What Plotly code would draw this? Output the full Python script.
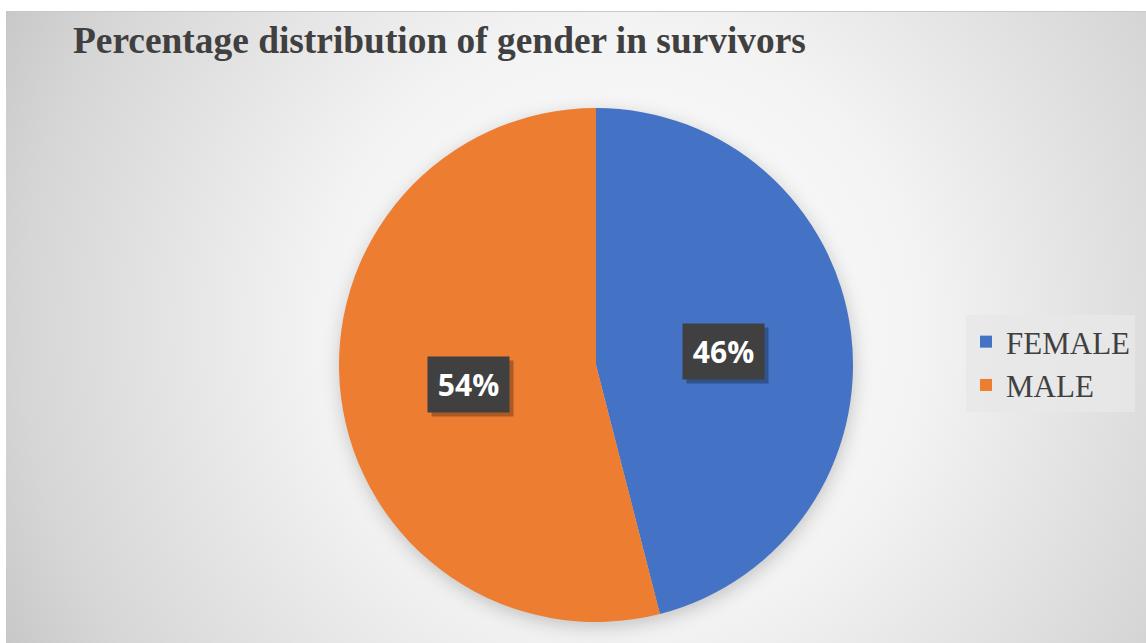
import base64
import math
import plotly.graph_objects as go

# ---- data ----
labels = ["FEMALE", "MALE"]
values = [46, 54]
colors = ["#4472C4", "#ED7D31"]
title_text = "Percentage distribution of gender in survivors"

# ---- layout constants (pixels) ----
W, H = 1146, 643
PIE_CX, PIE_CY, PIE_R = 596, 365, 257
BG_X0, BG_Y0 = 6, 11


def px2paper(x, y):
    return x / W, 1 - y / H


# background: radial gradient + soft shadow under the pie
bw, bh = W - BG_X0, H - BG_Y0
scx, scy = PIE_CX - BG_X0 + 1, PIE_CY - BG_Y0 + 5
gcx, gcy = bw * 0.54, bh * 0.5
svg = f'''<svg xmlns="http://www.w3.org/2000/svg" width="{bw}" height="{bh}" viewBox="0 0 {bw} {bh}">
<defs>
<radialGradient id="g" gradientUnits="userSpaceOnUse" cx="{gcx}" cy="{gcy}" r="720">
<stop offset="0" stop-color="#ffffff"/>
<stop offset="0.42" stop-color="#f3f3f3"/>
<stop offset="0.83" stop-color="#d6d6d6"/>
<stop offset="1" stop-color="#c4c4c4"/>
</radialGradient>
<filter id="b" x="-20%" y="-20%" width="140%" height="140%"><feGaussianBlur stdDeviation="9"/></filter>
</defs>
<rect x="0" y="0" width="{bw}" height="{bh}" fill="url(#g)"/>
<line x1="0" y1="0.5" x2="{bw}" y2="0.5" stroke="#c8c8c8" stroke-width="1"/>
<circle cx="{scx}" cy="{scy}" r="{PIE_R}" fill="rgba(0,0,0,0.2)" filter="url(#b)"/>
</svg>'''
svg_uri = "data:image/svg+xml;base64," + base64.b64encode(svg.encode()).decode()

x0p, y1p = px2paper(PIE_CX - PIE_R, PIE_CY - PIE_R)
x1p, y0p = px2paper(PIE_CX + PIE_R, PIE_CY + PIE_R)

fig = go.Figure(
    go.Pie(
        labels=labels,
        values=values,
        sort=False,
        direction="clockwise",
        rotation=0,
        marker=dict(colors=colors, line=dict(width=0)),
        textinfo="none",
        domain=dict(x=[x0p, x1p], y=[y0p, y1p]),
    )
)

# percentage labels placed along slice bisectors at half radius
total = sum(values)
cum = 0
annotations = []
for lab, v in zip(labels, values):
    mid = (cum + v / 2) / total
    cum += v
    th = 2 * math.pi * mid
    lx = PIE_CX + math.sin(th) * PIE_R * 0.5
    ly = PIE_CY - math.cos(th) * PIE_R * 0.5 + 3
    ax, ay = px2paper(lx, ly)
    txt = f"{round(100 * v / total)}%"
    annotations.append(dict(
        x=ax, y=ay, xref="paper", yref="paper", showarrow=False,
        text=" ", width=79, height=53, bgcolor="rgba(0,0,0,0.28)",
        xshift=4, yshift=-4,
    ))
    annotations.append(dict(
        x=ax, y=ay, xref="paper", yref="paper", showarrow=False,
        text=f"<b>{txt}</b>", width=79, height=53, bgcolor="#404040",
        font=dict(family="Open Sans", size=30, color="#ffffff"),
    ))

lgx, lgy = px2paper(966, 315)
fig.update_layout(
    width=W, height=H,
    margin=dict(l=0, r=0, t=0, b=0),
    paper_bgcolor="#ffffff",
    plot_bgcolor="rgba(0,0,0,0)",
    title=dict(
        text=f"<b>{title_text}</b>",
        x=73 / W, xanchor="left", xref="paper",
        y=1 - 40 / H, yanchor="middle", yref="paper",
        font=dict(family="Liberation Serif", size=37.4, color="#404040"),
    ),
    legend=dict(
        x=lgx, y=lgy, xanchor="left", yanchor="top",
        bgcolor="rgba(232,232,232,0.85)",
        font=dict(family="Liberation Serif", size=31, color="#404040"),
        traceorder="normal",
    ),
    annotations=annotations,
    images=[dict(
        source=svg_uri, xref="paper", yref="paper",
        x=BG_X0 / W, y=1 - BG_Y0 / H, sizex=bw / W, sizey=bh / H,
        xanchor="left", yanchor="top", sizing="stretch", layer="below",
    )],
)

fig.write_html(
    "out.html",
    config={"displayModeBar": False},
    post_script="document.body.style.margin='0';",
)
